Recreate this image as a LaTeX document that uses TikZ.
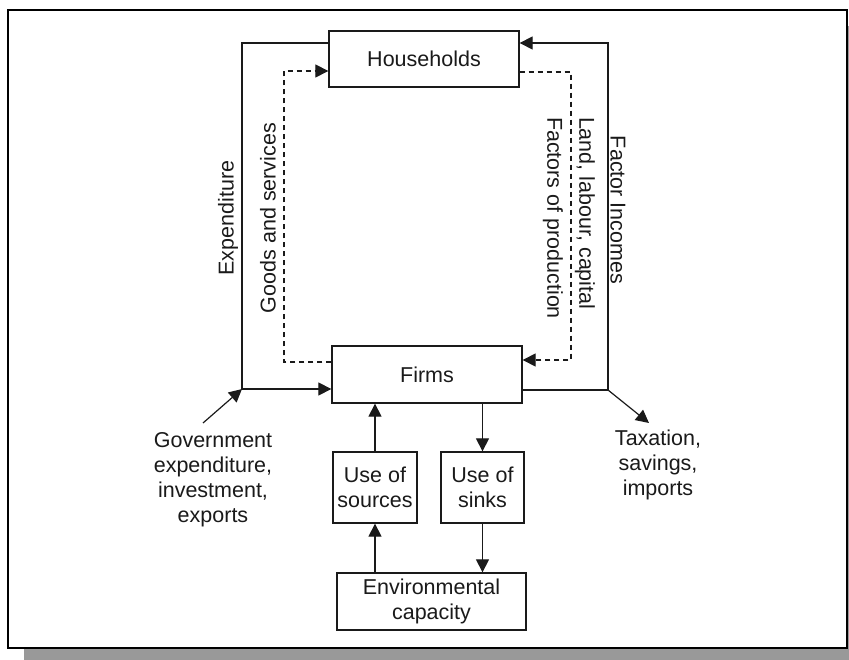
\documentclass[tikz,border=0pt]{standalone}
\usepackage{fontspec}
\setmainfont{Liberation Sans}
\usetikzlibrary{arrows.meta}
\definecolor{shadowgray}{HTML}{999999}
\definecolor{ink}{HTML}{1A1A1A}
\begin{document}
\begin{tikzpicture}[x=1pt,y=-1pt,
  every node/.style={font=\fontsize{21.5pt}{25pt}\selectfont, text=ink},
  box/.style={draw=ink, line width=1.3pt, inner sep=0pt, align=center},
  lbl/.style={inner sep=0pt, align=center},
  conn/.style={draw=ink, line width=1.2pt},
  tip/.style={-{Triangle[length=13pt,width=13pt]}},
  arr/.style={conn, tip},
  dsh/.style={conn, dash pattern=on 5pt off 4pt}]
\useasboundingbox (0,0) rectangle (849,660);
\clip (0,0) rectangle (849,660);
% frame with shadow
\fill[shadowgray] (24,26) rectangle (870,680);
\draw[fill=white, line width=2pt, draw=black] (8,10) rectangle (847,648);
% boxes
\node[box, minimum width=190pt, minimum height=56pt] (hh) at (424,59) {Households};
\node[box, minimum width=190pt, minimum height=57pt] (firms) at (427,374.5) {Firms};
\node[box, minimum width=84pt, minimum height=71pt] (src) at (375,487.5) {Use of\\sources};
\node[box, minimum width=83pt, minimum height=71pt] (snk) at (482.5,487.5) {Use of\\sinks};
\node[box, minimum width=189pt, minimum height=57pt] (env) at (431.5,601.5) {Environmental\\capacity};
% corner coordinates
\coordinate (tl) at (242,43);
\coordinate (bl) at (242,389);
\coordinate (tr) at (608,43);
\coordinate (br) at (608,390);
\coordinate (dl1) at (284,362);
\coordinate (dl2) at (284,71);
\coordinate (dr1) at (571,72);
\coordinate (dr2) at (571,360);
\coordinate (gs) at (203,423);
\coordinate (te) at (649,423);
% solid loop
\draw[arr] (hh.west |- tl) -- (tl) -- (bl) -- (firms.west |- bl);
\draw[arr] (firms.east |- br) -- (br) -- (tr) -- (hh.east |- tr);
% dashed loop
\draw[dsh, tip] (firms.west |- dl1) -- (dl1) -- (dl2) -- (hh.west |- dl2);
\draw[dsh, tip] (hh.east |- dr1) -- (dr1) -- (dr2) -- (firms.east |- dr2);
% injections / leakages
\node[lbl] (gov) at (213,480) {Government\\expenditure,\\investment,\\exports};
\node[lbl] (tax) at (658,465) {Taxation,\\savings,\\imports};
\draw[arr] (gs) -- (bl);
\draw[arr] (br) -- (te);
% environment
\draw[arr] (src.south |- env.north) -- (src.south);
\draw[arr] (src.north) -- (src.north |- firms.south);
\draw[arr] (snk.north |- firms.south) -- (snk.north);
\draw[arr] (snk.south) -- (snk.south |- env.north);
% rotated labels
\node[lbl, rotate=90] (expl) at (228,218) {Expenditure};
\node[lbl, rotate=90] (gsl) at (268,218) {Goods and services};
\node[lbl, rotate=-90] (fil) at (618,210) {Factor Incomes};
\node[lbl, rotate=-90, align=left] (fpl) at (569,218) {Land, labour, capital\\[7pt]Factors of production};
\end{tikzpicture}
\end{document}
